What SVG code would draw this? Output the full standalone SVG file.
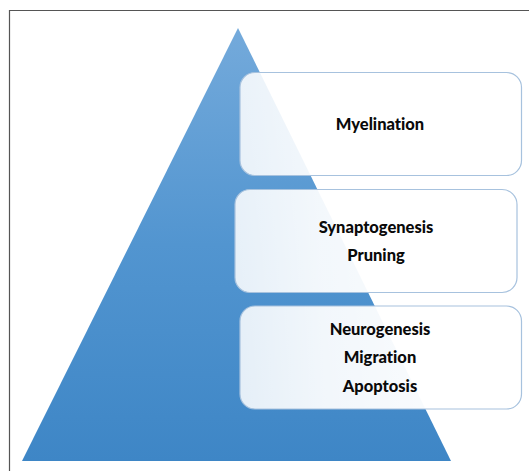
<svg xmlns="http://www.w3.org/2000/svg" width="529" height="471" viewBox="0 0 529 471">
<style>
.box{fill:url(#boxg);stroke:#a7c2de;stroke-width:1.2}
.lbl{font-family:Lato,"Open Sans","Liberation Sans",sans-serif;font-weight:900;font-size:16.5px;fill:#0a0a0a;text-anchor:middle;font-variant-ligatures:none}
</style>
<defs>
<linearGradient id="tri" x1="0" y1="0" x2="0" y2="1">
<stop offset="0" stop-color="#74aadb"/>
<stop offset="0.5" stop-color="#5295d0"/>
<stop offset="1" stop-color="#3e86c6"/>
</linearGradient>
<linearGradient id="boxg" x1="0" y1="0" x2="1" y2="0">
<stop offset="0" stop-color="#ffffff" stop-opacity="0.86"/>
<stop offset="0.3" stop-color="#ffffff" stop-opacity="0.93"/>
<stop offset="1" stop-color="#ffffff" stop-opacity="1"/>
</linearGradient>
</defs>
<rect x="0" y="0" width="529" height="471" fill="#ffffff"/>
<path d="M9.5 471 V10.5 H529" fill="none" stroke="#555" stroke-width="1.2"/>
<g id="pyramid">
<polygon points="238,28 451,461 22,461" fill="url(#tri)"/>
</g>
<g id="connectors"></g>
<g id="myelination">
<rect class="box" x="240" y="72.5" width="281.5" height="103" rx="15"/>
<text class="lbl" x="380" y="129.5">Myelination</text>
</g>
<g id="synaptogenesis">
<rect class="box" x="235" y="189.5" width="282" height="103" rx="15"/>
<text class="lbl" x="376" y="232.5">Synaptogenesis</text>
<text class="lbl" x="376" y="260.5">Pruning</text>
</g>
<g id="neurogenesis">
<rect class="box" x="240" y="306" width="281.5" height="103" rx="15"/>
<text class="lbl" x="380" y="334.5">Neurogenesis</text>
<text class="lbl" x="380" y="363">Migration</text>
<text class="lbl" x="380" y="391.5">Apoptosis</text>
</g>
</svg>
